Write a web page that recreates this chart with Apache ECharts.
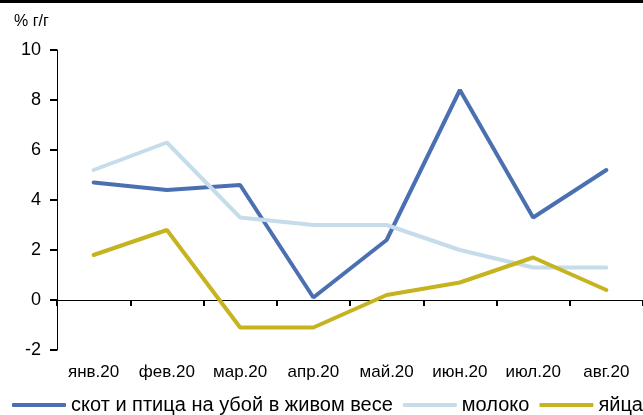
<!DOCTYPE html>
<html lang="ru">
<head>
    <meta charset="UTF-8">
    <title>% г/г</title>
    <script type="text/javascript" src="https://cdn.jsdelivr.net/npm/echarts@6/dist/echarts.min.js"></script>
    <style>
        html, body { margin: 0; padding: 0; background: #fff; }
    </style>
</head>
<body>
<div id="main" style="width: 643px;height:415px;"></div>

<script type="text/javascript">
    // данные
    var months = ['янв.20', 'фев.20', 'мар.20', 'апр.20', 'май.20', 'июн.20', 'июл.20', 'авг.20'];
    var skot = [4.7, 4.4, 4.6, 0.1, 2.4, 8.4, 3.3, 5.2];
    var moloko = [5.2, 6.3, 3.3, 3.0, 3.0, 2.0, 1.3, 1.3];
    var yaica = [1.8, 2.8, -1.1, -1.1, 0.2, 0.7, 1.7, 0.4];
    var yTicks = [-2, 0, 2, 4, 6, 8, 10];

    var font = 'Liberation Sans';
    var myChart = echarts.init(document.getElementById('main'));

    function line(name, data, color) {
        return {
            name: name,
            type: 'line',
            data: data,
            symbol: 'none',
            lineStyle: { color: color, width: 4, cap: 'round' },
            itemStyle: { color: color }
        };
    }

    var option = {
        animation: false,
        title: {
            text: '% г/г',
            left: 9,
            top: 9,
            textStyle: { fontSize: 16, fontWeight: 'normal', color: '#000', fontFamily: font }
        },
        graphic: [{
            type: 'rect',
            shape: { x: 0, y: 0, width: 643, height: 3 },
            style: { fill: '#000' }
        }],
        legend: {
            left: 7,
            bottom: -5,
            width: 1000,
            itemWidth: 54,
            itemHeight: 4,
            itemGap: 10,
            icon: 'roundRect',
            textStyle: { fontSize: 20, color: '#000', fontFamily: font },
            data: ['скот и птица на убой в живом весе', 'молоко', 'яйца']
        },
        grid: { left: 57, right: 0, top: 50, bottom: 65 },
        xAxis: [{
            type: 'category',
            data: months,
            axisLine: { onZero: true, lineStyle: { color: '#000' } },
            axisTick: { show: true, length: 6, lineStyle: { color: '#000', width: 2 } },
            axisLabel: { show: false }
        }, {
            type: 'category',
            data: months,
            position: 'bottom',
            axisLine: { show: false },
            axisTick: { show: false },
            axisLabel: { fontSize: 17, color: '#000', margin: 14, fontFamily: font }
        }],
        yAxis: {
            type: 'value',
            min: yTicks[0],
            max: yTicks[yTicks.length - 1],
            interval: 2,
            axisLine: { show: true, lineStyle: { color: '#000' } },
            axisTick: { show: true, length: 7, lineStyle: { color: '#000', width: 2 } },
            axisLabel: { fontSize: 18, color: '#000', margin: 16, fontFamily: font },
            splitLine: { lineStyle: { opacity: 0 } }
        },
        series: [
            line('скот и птица на убой в живом весе', skot, '#4b70b2'),
            line('молоко', moloko, '#c7dcea'),
            line('яйца', yaica, '#c6b320')
        ]
    };

    myChart.setOption(option);
</script>
</body>
</html>
